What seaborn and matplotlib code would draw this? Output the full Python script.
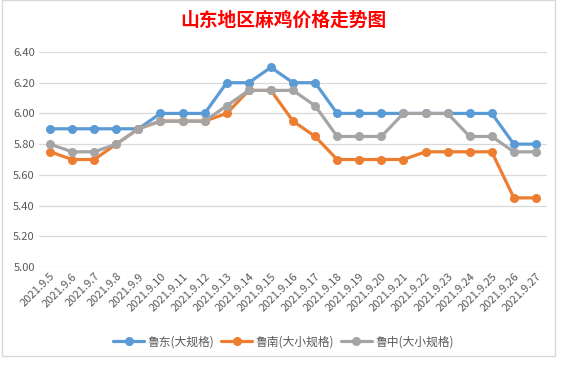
import matplotlib
matplotlib.use("Agg")
import matplotlib.pyplot as plt
import seaborn as sns
import pandas as pd
from matplotlib.patches import Rectangle
from matplotlib.lines import Line2D

# 数据
dates = ["2021.9.5", "2021.9.6", "2021.9.7", "2021.9.8", "2021.9.9", "2021.9.10",
         "2021.9.11", "2021.9.12", "2021.9.13", "2021.9.14", "2021.9.15", "2021.9.16",
         "2021.9.17", "2021.9.18", "2021.9.19", "2021.9.20", "2021.9.21", "2021.9.22",
         "2021.9.23", "2021.9.24", "2021.9.25", "2021.9.26", "2021.9.27"]
ludong = [5.90, 5.90, 5.90, 5.90, 5.90, 6.00, 6.00, 6.00, 6.20, 6.20, 6.30, 6.20,
          6.20, 6.00, 6.00, 6.00, 6.00, 6.00, 6.00, 6.00, 6.00, 5.80, 5.80]
lunan = [5.75, 5.70, 5.70, 5.80, 5.90, 5.95, 5.95, 5.95, 6.00, 6.15, 6.15, 5.95,
         5.85, 5.70, 5.70, 5.70, 5.70, 5.75, 5.75, 5.75, 5.75, 5.45, 5.45]
luzhong = [5.80, 5.75, 5.75, 5.80, 5.90, 5.95, 5.95, 5.95, 6.05, 6.15, 6.15, 6.15,
           6.05, 5.85, 5.85, 5.85, 6.00, 6.00, 6.00, 5.85, 5.85, 5.75, 5.75]
series_names = ["鲁东(大规格)", "鲁南(大小规格)", "鲁中(大小规格)"]
yticks = [5.00, 5.20, 5.40, 5.60, 5.80, 6.00, 6.20, 6.40]
colors = ["#5B9BD5", "#ED7D31", "#A5A5A5"]

df = pd.DataFrame({
    "x": list(range(len(dates))) * 3,
    "price": ludong + lunan + luzhong,
    "series": [series_names[0]] * len(dates) + [series_names[1]] * len(dates)
              + [series_names[2]] * len(dates),
})

sns.set_style("white")
plt.rcParams["font.family"] = ["Noto Sans CJK SC", "DejaVu Sans"]
plt.rcParams["axes.unicode_minus"] = False

fig = plt.figure(figsize=(5.67, 3.66), dpi=100)
ax = fig.add_axes([39 / 567, 1 - 267 / 366, 508 / 567, 215 / 366])

sns.lineplot(data=df, x="x", y="price", hue="series", palette=colors,
             marker="o", markersize=6.5, markeredgewidth=0, linewidth=2.3,
             legend=False, ax=ax)

ax.set_xlim(-0.5, len(dates) - 0.5)
ax.set_ylim(5.0, 6.4)
ax.set_yticks(yticks)
ax.set_yticklabels([f"{v:.2f}" for v in yticks], fontsize=8, color="#595959")
ax.set_xticks(range(len(dates)))
ax.set_xticklabels(dates, rotation=45, ha="right", rotation_mode="anchor",
                   fontsize=8, color="#595959")
ax.tick_params(axis="both", length=0, pad=3)
ax.set_xlabel("")
ax.set_ylabel("")
ax.grid(axis="y", color="#D9D9D9", linewidth=0.9)
ax.set_axisbelow(True)
for s in ["left", "right", "top", "bottom"]:
    ax.spines[s].set_visible(False)

# 标题
fig.text(0.5, 1 - 20 / 366, "山东地区麻鸡价格走势图", ha="center", va="center",
         fontsize=13.5, fontweight="bold", color="#FF0000")

# 图例
handles = [Line2D([0], [0], color=c, linewidth=2.3, marker="o", markersize=6.5,
                  markeredgewidth=0) for c in colors]
fig.legend(handles, series_names, loc="center", bbox_to_anchor=(0.5, 1 - 342 / 366),
           ncol=3, frameon=False, fontsize=8.5, labelcolor="#595959",
           handlelength=2.6, columnspacing=0.6, handletextpad=0.3)

# 图表区边框
fig.patches.append(Rectangle((2 / 567, 1 - 356 / 366), 553 / 567, 356 / 366,
                             transform=fig.transFigure, fill=False,
                             edgecolor="#D9D9D9", linewidth=1))

fig.savefig("out.png", dpi=100)
plt.close(fig)
